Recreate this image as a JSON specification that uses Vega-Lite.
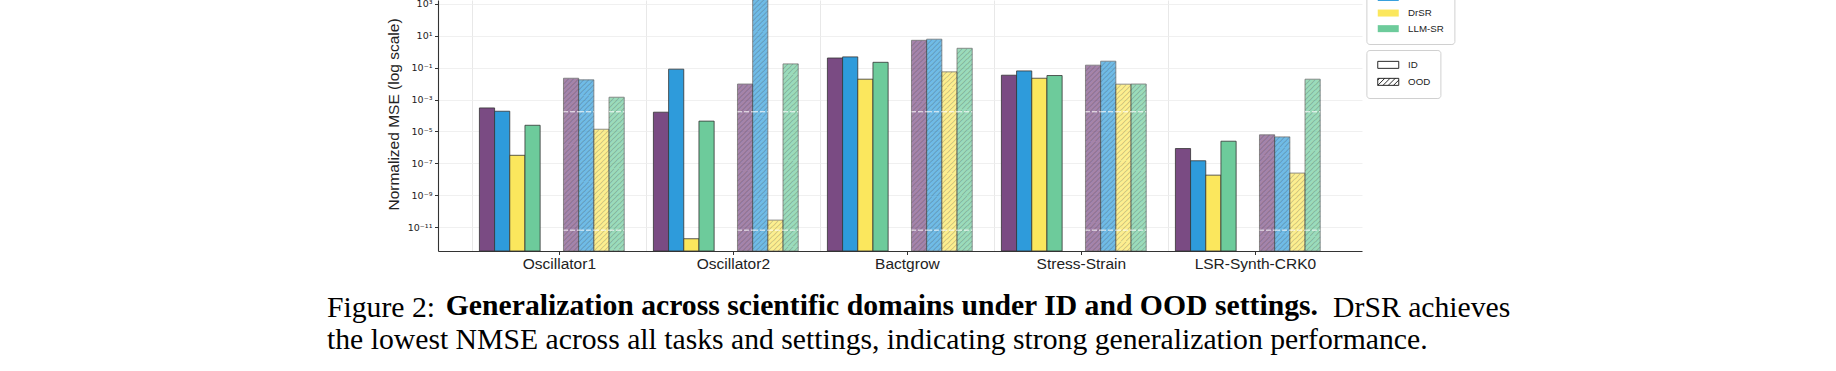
{
  "$schema": "https://vega.github.io/schema/vega-lite/v6.json",
  "autosize": {"type": "none"},
  "width": 924,
  "height": 251,
  "padding": {"left": 438, "top": 0, "right": 474, "bottom": 120},
  "background": "white",
  "config": {
    "view": {"stroke": null},
    "axis": {"domainColor": "#333333", "domainWidth": 1.1, "tickColor": "#333333", "tickWidth": 1, "tickSize": 3.5, "labelColor": "#222222", "titleColor": "#222222"}
  },
  "title": {
    "text": {"expr": "['Figure 2:' + pad('', 121, '\u00a0') + 'DrSR achieves', 'the lowest NMSE across all tasks and settings, indicating strong generalization performance.']"},
    "subtitle": "\u200b\u00a0\u00a0\u00a0\u00a0\u00a0\u00a0\u00a0\u00a0\u00a0\u00a0\u00a0\u00a0\u00a0\u00a0\u00a0\u00a0Generalization across scientific domains under ID and OOD settings.",
    "orient": "bottom",
    "anchor": "start",
    "frame": "group",
    "dx": -111,
    "offset": 22,
    "font": "Liberation Serif",
    "fontSize": 29.7,
    "fontWeight": "normal",
    "color": "black",
    "lineHeight": 32,
    "subtitleFont": "Liberation Serif",
    "subtitleFontSize": 29.7,
    "subtitleFontWeight": "bold",
    "subtitleColor": "black",
    "subtitleLineHeight": 32,
    "subtitlePadding": -64
  },
  "data": {
    "values": [
      {"task": "Oscillator1", "setting": "ID", "method": "LaSR", "value": 3.0e-4},
      {"task": "Oscillator1", "setting": "ID", "method": "SGA", "value": 1.86e-4},
      {"task": "Oscillator1", "setting": "ID", "method": "DrSR", "value": 3.2e-7},
      {"task": "Oscillator1", "setting": "ID", "method": "LLM-SR", "value": 2.45e-5},
      {"task": "Oscillator1", "setting": "OOD", "method": "LaSR", "value": 0.0219},
      {"task": "Oscillator1", "setting": "OOD", "method": "SGA", "value": 0.0174},
      {"task": "Oscillator1", "setting": "OOD", "method": "DrSR", "value": 1.38e-5},
      {"task": "Oscillator1", "setting": "OOD", "method": "LLM-SR", "value": 1.41e-3},
      {"task": "Oscillator2", "setting": "ID", "method": "LaSR", "value": 1.62e-4},
      {"task": "Oscillator2", "setting": "ID", "method": "SGA", "value": 0.0813},
      {"task": "Oscillator2", "setting": "ID", "method": "DrSR", "value": 1.86e-12},
      {"task": "Oscillator2", "setting": "ID", "method": "LLM-SR", "value": 4.47e-5},
      {"task": "Oscillator2", "setting": "OOD", "method": "LaSR", "value": 9.5e-3},
      {"task": "Oscillator2", "setting": "OOD", "method": "SGA", "value": 3.0e4},
      {"task": "Oscillator2", "setting": "OOD", "method": "DrSR", "value": 2.75e-11},
      {"task": "Oscillator2", "setting": "OOD", "method": "LLM-SR", "value": 0.174},
      {"task": "Bactgrow", "setting": "ID", "method": "LaSR", "value": 0.407},
      {"task": "Bactgrow", "setting": "ID", "method": "SGA", "value": 0.479},
      {"task": "Bactgrow", "setting": "ID", "method": "DrSR", "value": 0.0191},
      {"task": "Bactgrow", "setting": "ID", "method": "LLM-SR", "value": 0.219},
      {"task": "Bactgrow", "setting": "OOD", "method": "LaSR", "value": 5.25},
      {"task": "Bactgrow", "setting": "OOD", "method": "SGA", "value": 6.17},
      {"task": "Bactgrow", "setting": "OOD", "method": "DrSR", "value": 0.055},
      {"task": "Bactgrow", "setting": "OOD", "method": "LLM-SR", "value": 1.66},
      {"task": "Stress-Strain", "setting": "ID", "method": "LaSR", "value": 0.0339},
      {"task": "Stress-Strain", "setting": "ID", "method": "SGA", "value": 0.0631},
      {"task": "Stress-Strain", "setting": "ID", "method": "DrSR", "value": 0.0219},
      {"task": "Stress-Strain", "setting": "ID", "method": "LLM-SR", "value": 0.0324},
      {"task": "Stress-Strain", "setting": "OOD", "method": "LaSR", "value": 0.145},
      {"task": "Stress-Strain", "setting": "OOD", "method": "SGA", "value": 0.257},
      {"task": "Stress-Strain", "setting": "OOD", "method": "DrSR", "value": 9.3e-3},
      {"task": "Stress-Strain", "setting": "OOD", "method": "LLM-SR", "value": 9.5e-3},
      {"task": "LSR-Synth-CRK0", "setting": "ID", "method": "LaSR", "value": 8.5e-7},
      {"task": "LSR-Synth-CRK0", "setting": "ID", "method": "SGA", "value": 1.45e-7},
      {"task": "LSR-Synth-CRK0", "setting": "ID", "method": "DrSR", "value": 1.82e-8},
      {"task": "LSR-Synth-CRK0", "setting": "ID", "method": "LLM-SR", "value": 2.45e-6},
      {"task": "LSR-Synth-CRK0", "setting": "OOD", "method": "LaSR", "value": 6.17e-6},
      {"task": "LSR-Synth-CRK0", "setting": "OOD", "method": "SGA", "value": 4.57e-6},
      {"task": "LSR-Synth-CRK0", "setting": "OOD", "method": "DrSR", "value": 2.45e-8},
      {"task": "LSR-Synth-CRK0", "setting": "OOD", "method": "LLM-SR", "value": 0.0191}
    ]
  },
  "encoding": {
    "x": {
      "field": "task", "type": "nominal",
      "sort": ["Oscillator1", "Oscillator2", "Bactgrow", "Stress-Strain", "LSR-Synth-CRK0"],
      "scale": {"type": "band", "paddingInner": 0, "paddingOuter": 0.1552, "align": 0.637},
      "axis": {"title": null, "labelAngle": 0, "labelFont": "Liberation Sans", "labelFontSize": 15.5, "labelPadding": 2, "grid": false}
    },
    "y": {
      "field": "value", "type": "quantitative",
      "scale": {"type": "log", "domain": [3.1623e-13, 1778.28], "nice": false},
      "axis": {
        "title": "Normalized MSE (log scale)",
        "values": [1000, 10, 0.1, 0.001, 1e-5, 1e-7, 1e-9, 1e-11],
        "labelExpr": "datum.value > 100 ? '10³' : datum.value > 1 ? '10¹' : datum.value > 0.01 ? '10⁻¹' : datum.value > 1e-4 ? '10⁻³' : datum.value > 1e-6 ? '10⁻⁵' : datum.value > 1e-8 ? '10⁻⁷' : datum.value > 1e-10 ? '10⁻⁹' : '10⁻¹¹'",
        "labelFont": "DejaVu Sans", "labelFontSize": 9.5, "labelPadding": 2.5,
        "grid": true, "gridColor": "#ececec", "gridWidth": 0.8,
        "titleFont": "Liberation Sans", "titleFontSize": 15.5, "titleFontWeight": "normal",
        "titleX": -45, "titleY": 114, "titleAngle": -90, "titleAlign": "center", "titleBaseline": "middle"
      }
    }
  },
  "layer": [
    {
      "transform": [{"filter": "datum.setting === 'ID'"}],
      "mark": {"type": "bar", "clip": true, "stroke": "#333333", "strokeWidth": 0.8},
      "encoding": {
        "y2": {"datum": 3.1623e-13},
        "xOffset": {"field": "method", "type": "nominal",
          "scale": {"type": "band", "domain": ["LaSR", "SGA", "DrSR", "LLM-SR", "_a", "_b", "_c", "_d", "_e", "_f", "_g"], "paddingInner": 0, "paddingOuter": 0.231, "align": 1}},
        "color": {"field": "method", "type": "nominal",
          "scale": {"domain": ["LaSR", "SGA", "DrSR", "LLM-SR"], "range": ["#7a4b83", "#2e9bdb", "#fbe75d", "#6dcb9b"]},
          "legend": {"orient": "none", "legendX": 928.4, "legendY": -33, "title": null, "symbolType": "M-1,-1H5V1H-1Z", "symbolSize": 49, "symbolStrokeWidth": 0, "symbolOpacity": 1, "labelOffset": 22, "rowPadding": 4.6, "padding": 10, "strokeColor": "#d0d0d0", "fillColor": "white", "cornerRadius": 3, "labelFont": "Liberation Sans", "labelFontSize": 9.7, "labelColor": "#222222"}}
      }
    },
    {
      "transform": [{"filter": "datum.setting === 'OOD'"}],
      "encoding": {
        "x": {"field": "task", "type": "nominal",
          "sort": ["Oscillator1", "Oscillator2", "Bactgrow", "Stress-Strain", "LSR-Synth-CRK0"],
          "scale": {"type": "band", "paddingInner": 0, "paddingOuter": 0.1552, "align": 0.637}, "axis": null},
        "xOffset": {"field": "method", "type": "nominal",
          "scale": {"type": "band", "domain": ["_a", "_b", "_c", "_d", "_e", "_f", "LaSR", "SGA", "DrSR", "LLM-SR", "_g"], "paddingInner": 0, "paddingOuter": 0.231, "align": 0}}
      },
      "layer": [
        {
          "mark": {"type": "bar", "clip": true, "stroke": "#333333", "strokeWidth": 0.8, "opacity": 0.68},
          "encoding": {
            "y2": {"datum": 3.1623e-13},
            "color": {"field": "method", "type": "nominal",
              "scale": {"domain": ["LaSR", "SGA", "DrSR", "LLM-SR"], "range": ["#7a4b83", "#2e9bdb", "#fbe75d", "#6dcb9b"]},
              "legend": {"orient": "none", "legendX": 928.4, "legendY": -33, "title": null, "symbolType": "M-1,-1H5V1H-1Z", "symbolSize": 49, "symbolStrokeWidth": 0, "symbolOpacity": 1, "labelOffset": 22, "rowPadding": 4.6, "padding": 10, "strokeColor": "#d0d0d0", "fillColor": "white", "cornerRadius": 3, "labelFont": "Liberation Sans", "labelFontSize": 9.7, "labelColor": "#222222"}}
          }
        },
        {
          "mark": {
            "type": "text", "clip": true,
            "text": ["╱╱╱","╱╱╱","╱╱╱","╱╱╱","╱╱╱","╱╱╱","╱╱╱","╱╱╱","╱╱╱","╱╱╱","╱╱╱","╱╱╱","╱╱╱","╱╱╱","╱╱╱","╱╱╱","╱╱╱","╱╱╱","╱╱╱","╱╱╱","╱╱╱","╱╱╱","╱╱╱","╱╱╱","╱╱╱","╱╱╱","╱╱╱","╱╱╱","╱╱╱","╱╱╱","╱╱╱","╱╱╱","╱╱╱","╱╱╱","╱╱╱","╱╱╱","╱╱╱","╱╱╱","╱╱╱","╱╱╱","╱╱╱","╱╱╱","╱╱╱","╱╱╱","╱╱╱","╱╱╱","╱╱╱","╱╱╱","╱╱╱","╱╱╱","╱╱╱","╱╱╱","╱╱╱","╱╱╱","╱╱╱","╱╱╱"],
            "font": "Noto Sans CJK JP", "fontSize": 5.06, "lineHeight": 5.06,
            "baseline": "top", "align": "center", "color": "#333333", "opacity": 0.75, "dy": 0.5
          }
        },
        {
          "transform": [{"filter": "datum.value > 2e-4"}],
          "mark": {"type": "bar", "clip": true, "opacity": 0.9,
            "fill": {"gradient": "linear", "x1": 0, "y1": 0, "x2": 1, "y2": 0, "stops": [
              {"offset": 0, "color": "white"}, {"offset": 0.33, "color": "white"},
              {"offset": 0.33, "color": "rgba(255,255,255,0)"}, {"offset": 0.46, "color": "rgba(255,255,255,0)"},
              {"offset": 0.46, "color": "white"}, {"offset": 0.79, "color": "white"},
              {"offset": 0.79, "color": "rgba(255,255,255,0)"}, {"offset": 0.92, "color": "rgba(255,255,255,0)"},
              {"offset": 0.92, "color": "white"}, {"offset": 1, "color": "white"}]}},
          "encoding": {"y": {"datum": 1.85e-4}, "y2": {"datum": 1.6e-4}}
        },
        {
          "mark": {"type": "bar", "clip": true, "opacity": 0.9,
            "fill": {"gradient": "linear", "x1": 0, "y1": 0, "x2": 1, "y2": 0, "stops": [
              {"offset": 0, "color": "white"}, {"offset": 0.33, "color": "white"},
              {"offset": 0.33, "color": "rgba(255,255,255,0)"}, {"offset": 0.46, "color": "rgba(255,255,255,0)"},
              {"offset": 0.46, "color": "white"}, {"offset": 0.79, "color": "white"},
              {"offset": 0.79, "color": "rgba(255,255,255,0)"}, {"offset": 0.92, "color": "rgba(255,255,255,0)"},
              {"offset": 0.92, "color": "white"}, {"offset": 1, "color": "white"}]}},
          "encoding": {"y": {"datum": 6.9e-12}, "y2": {"datum": 6.0e-12}}
        }
      ]
    },
    {
      "mark": {"type": "point", "opacity": 0, "clip": true},
      "encoding": {
        "x": {"field": "task", "type": "nominal",
          "sort": ["Oscillator1", "Oscillator2", "Bactgrow", "Stress-Strain", "LSR-Synth-CRK0"],
          "scale": {"type": "band", "paddingInner": 0, "paddingOuter": 0.1552, "align": 0.637},
          "axis": {"orient": "top", "title": null, "grid": true, "gridColor": "#e2e2e2", "gridWidth": 0.8, "bandPosition": 0, "labels": false, "ticks": false, "domain": false}},
        "shape": {"field": "setting", "type": "nominal",
          "scale": {"domain": ["ID", "OOD"], "range": ["M-1,-1H5V1H-1Z", "M-1,-1H5V1H-1Z M-1,-0.5L-0.5,-1 M-1,1L1,-1 M0.5,1L2.5,-1 M2,1L4,-1 M3.5,1L5,-0.5"]},
          "legend": {"orient": "none", "legendX": 928.4, "legendY": 50, "title": null, "symbolSize": 49, "symbolStrokeColor": "#111111", "symbolFillColor": "white", "symbolStrokeWidth": 0.9, "symbolOpacity": 1, "labelOffset": 22, "rowPadding": 5, "padding": 10, "strokeColor": "#d0d0d0", "fillColor": "white", "cornerRadius": 3, "labelFont": "Liberation Sans", "labelFontSize": 9.7, "labelColor": "#222222"}}
      }
    }
  ],
  "resolve": {"scale": {"xOffset": "independent"}, "axis": {"x": "independent"}}
}
